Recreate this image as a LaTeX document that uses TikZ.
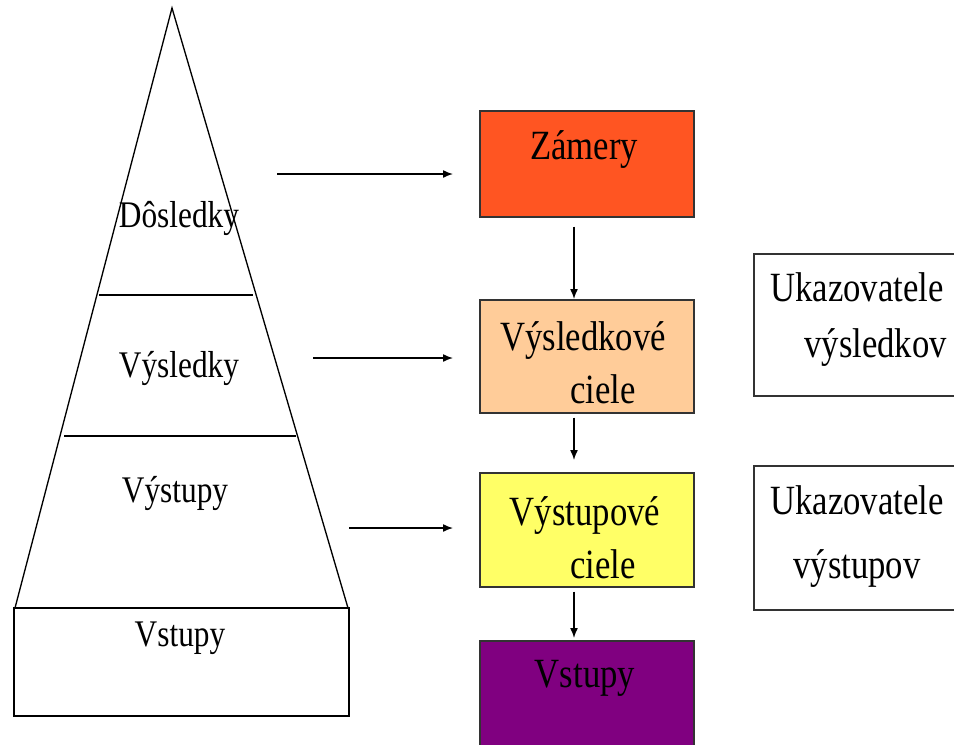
\documentclass[tikz,border=0pt]{standalone}
\usepackage{fontspec}
\setmainfont{Liberation Serif}
\usepackage{graphicx}
\usetikzlibrary{arrows.meta,calc}

\definecolor{zamerycol}{RGB}{255,85,34}
\definecolor{vysledkycol}{RGB}{255,204,153}
\definecolor{vystupycol}{RGB}{255,255,102}
\definecolor{vstupycol}{RGB}{128,0,128}
\definecolor{edgecol}{RGB}{51,51,51}

\newcommand{\tallt}[1]{\scalebox{1}[1.2]{#1}}

\tikzset{every picture/.style={line width=0.75pt}}

\begin{document}
\begin{tikzpicture}[x=0.75pt,y=0.75pt,yscale=-1,xscale=1,
  goalbox/.style={draw=edgecol,line width=1.2pt,rectangle,anchor=north west,inner sep=0pt,minimum width=160.5pt},
  ukbox/.style={draw=edgecol,line width=1.2pt,fill=white,rectangle,anchor=north west,inner sep=0pt,minimum width=156.75pt},
  bigtxt/.style={font=\fontsize{26}{40}\selectfont,inner sep=0pt,align=center},
  pyrtxt/.style={font=\fontsize{23.5}{30}\selectfont,inner sep=0pt},
  arr/.style={line width=1.1pt,-{Latex[length=7.5pt,width=6pt]}}]
\clip (0,0) rectangle (954,744);

%Pyramid
\draw [line width=1pt] (172,8) -- (348,608) -- (15,608) -- cycle ;
\draw [line width=1pt] (14,608) rectangle (349,716) ;
%dividers
\draw [line width=1pt] (99,295) -- (253,295) ;
\draw [line width=1pt] (64,436) -- (296,436) ;

% pyramid texts
\node [pyrtxt] (tdosledky) at (179,218) {\tallt{Dôsledky}};
\node [pyrtxt] (tvysledky) at (179,368) {\tallt{Výsledky}};
\node [pyrtxt] (tvystupy) at (175,493) {\tallt{Výstupy}};
\node [pyrtxt] (tvstupy) at (180,638) {\tallt{Vstupy}};

%Goal boxes
\node [goalbox,fill=zamerycol,minimum height=79.5pt] (zamery) at (479,110) {};
\node [goalbox,fill=vysledkycol,minimum height=84.75pt] (vysl) at (479,299) {};
\node [goalbox,fill=vystupycol,minimum height=85.5pt] (vyst) at (479,472) {};
\node [goalbox,fill=vstupycol,minimum height=82.5pt] (vstupy) at (479,640) {};

%Indicator boxes
\node [ukbox,minimum height=106.5pt] (ukvysl) at (753,253) {};
\node [ukbox,minimum height=108pt] (ukvyst) at (753,465) {};

% Text Nodes
\node [bigtxt] (tzamery) at (584,150) {\tallt{Zámery}};
\node [bigtxt] (tvysl) at (583,363) {\tallt{Výsledkové}\\\hspace*{30pt}\tallt{ciele}};
\node [bigtxt] (tvyst) at (585,538) {\tallt{Výstupové}\\\hspace*{27pt}\tallt{ciele}};
\node [bigtxt] (tvstupy2) at (585,678) {\tallt{Vstupy}};
\node [bigtxt] (tukvysl) at (857,320) {\tallt{Ukazovatele}\\[2pt]\hspace*{28pt}\tallt{výsledkov}};
\node [bigtxt] (tukvyst) at (857,537) {\tallt{Ukazovatele}\\[8pt]\tallt{výstupov}};

%Arrows from the pyramid
\coordinate (a1) at (277,174);
\coordinate (a2) at (313,358);
\coordinate (a3) at (349,528);
\draw [arr,shorten >=19.5pt] (a1) -- (a1 -| zamery.west) ;
\draw [arr,shorten >=19.5pt] (a2) -- (a2 -| vysl.west) ;
\draw [arr,shorten >=19.5pt] (a3) -- (a3 -| vyst.west) ;

%Vertical arrows
\coordinate (axis) at (574,0);
\draw [arr,shorten <=6.75pt] (zamery.south -| axis) -- (vysl.north -| axis) ;
\draw [arr,shorten <=3pt,shorten >=9pt] (vysl.south -| axis) -- (vyst.north -| axis) ;
\draw [arr,shorten <=3pt,shorten >=1.5pt] (vyst.south -| axis) -- (vstupy.north -| axis) ;

%Links to indicators
\draw [line width=1.1pt] ($(vysl.east)+(0,4)$) -- ($(vysl.east)+(0,4)$ -| ukvysl.west) ;
\draw [line width=1.1pt] ($(vyst.east)+(0,18)$) -- ($(vyst.east)+(0,18)$ -| ukvyst.west) ;

\end{tikzpicture}
\end{document}
